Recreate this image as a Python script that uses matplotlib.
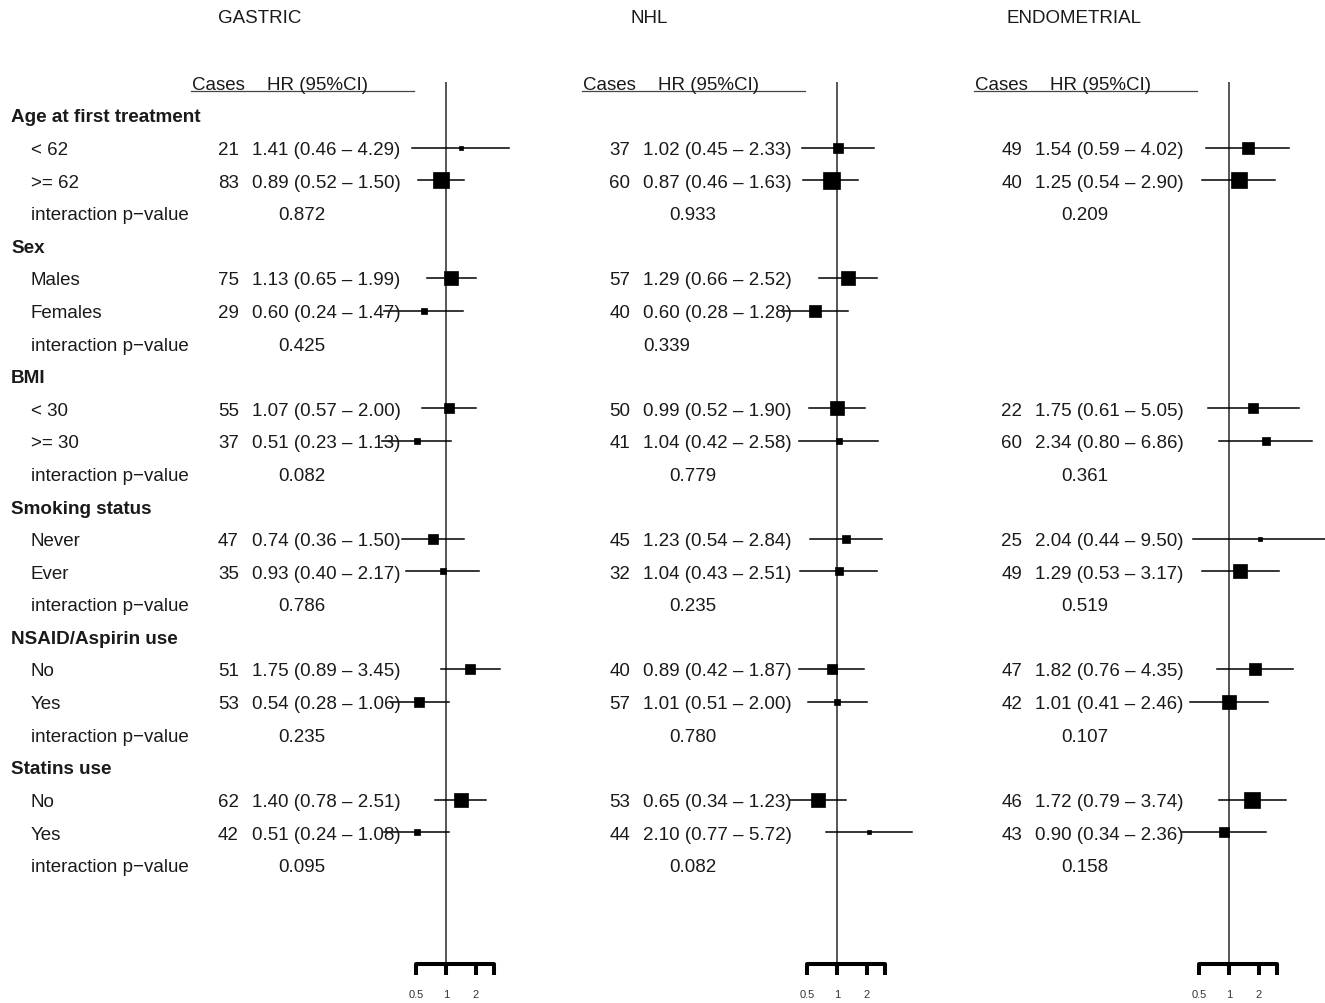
import matplotlib.pyplot as plt
from matplotlib.lines import Line2D
from matplotlib.ticker import NullLocator

plt.rcParams['font.family'] = ['Liberation Sans', 'DejaVu Sans']

# ---- data ----
panels = ['GASTRIC', 'NHL', 'ENDOMETRIAL']

groups = ['Age at first treatment', 'Sex', 'BMI', 'Smoking status',
          'NSAID/Aspirin use', 'Statins use']
levels = [['< 62', '>= 62'], ['Males', 'Females'], ['< 30', '>= 30'],
          ['Never', 'Ever'], ['No', 'Yes'], ['No', 'Yes']]

gastric_cases = [21, 83, 75, 29, 55, 37, 47, 35, 51, 53, 62, 42]
gastric_hr = [1.41, 0.89, 1.13, 0.60, 1.07, 0.51, 0.74, 0.93, 1.75, 0.54, 1.40, 0.51]
gastric_lo = [0.46, 0.52, 0.65, 0.24, 0.57, 0.23, 0.36, 0.40, 0.89, 0.28, 0.78, 0.24]
gastric_hi = [4.29, 1.50, 1.99, 1.47, 2.00, 1.13, 1.50, 2.17, 3.45, 1.06, 2.51, 1.08]
gastric_p = ['0.872', '0.425', '0.082', '0.786', '0.235', '0.095']
gastric_w = [0.25, 0.95, 0.85, 0.38, 0.6, 0.38, 0.55, 0.38, 0.6, 0.6, 0.78, 0.4]

nhl_cases = [37, 60, 57, 40, 50, 41, 45, 32, 40, 57, 53, 44]
nhl_hr = [1.02, 0.87, 1.29, 0.60, 0.99, 1.04, 1.23, 1.04, 0.89, 1.01, 0.65, 2.10]
nhl_lo = [0.45, 0.46, 0.66, 0.28, 0.52, 0.42, 0.54, 0.43, 0.42, 0.51, 0.34, 0.77]
nhl_hi = [2.33, 1.63, 2.52, 1.28, 1.90, 2.58, 2.84, 2.51, 1.87, 2.00, 1.23, 5.72]
nhl_p = ['0.933', '0.339', '0.779', '0.235', '0.780', '0.082']
nhl_w = [0.55, 1.0, 0.78, 0.65, 0.88, 0.36, 0.48, 0.48, 0.6, 0.3, 0.85, 0.25]

endo_cases = [49, 40, None, None, 22, 60, 25, 49, 47, 42, 46, 43]
endo_hr = [1.54, 1.25, None, None, 1.75, 2.34, 2.04, 1.29, 1.82, 1.01, 1.72, 0.90]
endo_lo = [0.59, 0.54, None, None, 0.61, 0.80, 0.44, 0.53, 0.76, 0.41, 0.79, 0.34]
endo_hi = [4.02, 2.90, None, None, 5.05, 6.86, 9.50, 3.17, 4.35, 2.46, 3.74, 2.36]
endo_p = ['0.209', None, '0.361', '0.519', '0.107', '0.158']
endo_w = [0.65, 0.95, None, None, 0.6, 0.48, 0.28, 0.8, 0.72, 0.82, 0.9, 0.6]

panel_data = [
    (gastric_cases, gastric_hr, gastric_lo, gastric_hi, gastric_p, gastric_w),
    (nhl_cases, nhl_hr, nhl_lo, nhl_hi, nhl_p, nhl_w),
    (endo_cases, endo_hr, endo_lo, endo_hi, endo_p, endo_w),
]

# ---- layout (pixels) ----
W, H = 1325, 1004
offsets = [0, 391, 783]
title_x = [260, 649, 1074]
row0_y, row_h = 83.4, 32.6
axis_y = 965
fs = 13.5
txt_col = '#1a1a1a'
dy = 1.8  # text sits slightly lower than the marks


def fx(x):
    return x / W


def fy(y):
    return 1 - y / H


def row_y(r):
    return row0_y + r * row_h


fig = plt.figure(figsize=(W / 100, H / 100), dpi=100)

# row structure
rows = []  # (kind, text, group index, level index)
for g, name in enumerate(groups):
    rows.append(('group', name, g, None))
    for j, lev in enumerate(levels[g]):
        rows.append(('level', lev, g, j))
    rows.append(('p', 'interaction p\u2212value', g, None))

# left-hand labels
for r, (kind, text, g, j) in enumerate(rows, start=1):
    if kind == 'group':
        fig.text(fx(11), fy(row_y(r) + dy), text, fontsize=13.6, fontweight='bold',
                 color=txt_col, va='center', ha='left')
    else:
        fig.text(fx(31), fy(row_y(r) + dy), text, fontsize=fs, color=txt_col,
                 va='center', ha='left')

for k, (cases, hr, lo, hi, pv, wt) in enumerate(panel_data):
    off = offsets[k]
    fig.text(fx(title_x[k]), fy(17 + dy), panels[k], fontsize=fs, color=txt_col,
             ha='center', va='center')
    fig.text(fx(192 + off), fy(row0_y + dy), 'Cases', fontsize=fs, color=txt_col,
             ha='left', va='center')
    fig.text(fx(267 + off), fy(row0_y + dy), 'HR (95%CI)', fontsize=fs, color=txt_col,
             ha='left', va='center')
    fig.add_artist(Line2D([fx(191 + off), fx(414 + off)], [fy(92), fy(92)],
                          color='#444444', lw=0.9))

    ax = fig.add_axes([fx(416 + off), fy(axis_y), fx(77.5), (axis_y - row0_y) / H])
    ax.set_xscale('log', base=2)
    ax.set_xlim(0.5, 3)
    ax.set_ylim((axis_y - row0_y) / row_h, 0)
    ax.patch.set_alpha(0)
    for s in ['top', 'right', 'left']:
        ax.spines[s].set_visible(False)
    ax.spines['bottom'].set_linewidth(2.9)
    ax.spines['bottom'].set_capstyle('round')
    ax.set_yticks([])
    ax.set_xticks([0.5, 1, 2, 3])
    ax.set_xticklabels(['0.5', '1', '2', ''])
    ax.xaxis.set_minor_locator(NullLocator())
    ax.tick_params(axis='x', length=8, width=2.9, labelsize=8, pad=10,
                   colors='black', labelcolor='#333333')
    ax.axvline(1, color='#3a3a3a', lw=1.2, zorder=1)

    for r, (kind, text, g, j) in enumerate(rows, start=1):
        y = row_y(r)
        if kind == 'level':
            i = 2 * g + j
            if hr[i] is None:
                continue
            fig.text(fx(239 + off), fy(y + dy), str(cases[i]), fontsize=fs, color=txt_col,
                     ha='right', va='center')
            fig.text(fx(252 + off), fy(y + dy),
                     f'{hr[i]:.2f} ({lo[i]:.2f} \u2013 {hi[i]:.2f})',
                     fontsize=fs, color=txt_col, ha='left', va='center')
            ax.plot([lo[i], hi[i]], [r, r], color='black', lw=1.1,
                    clip_on=False, zorder=2)
            ax.plot([hr[i]], [r], marker='s', ms=17 * wt[i] * 0.72, color='black',
                    mec='black', mew=0.5, clip_on=False, zorder=3)
        elif kind == 'p' and pv[g] is not None:
            px = 278 + off
            if k == 1 and g == 1:
                px = 252 + off
            fig.text(fx(px), fy(y + dy), pv[g], fontsize=fs, color=txt_col,
                     ha='left', va='center')

fig.savefig('out.png', dpi=100)
